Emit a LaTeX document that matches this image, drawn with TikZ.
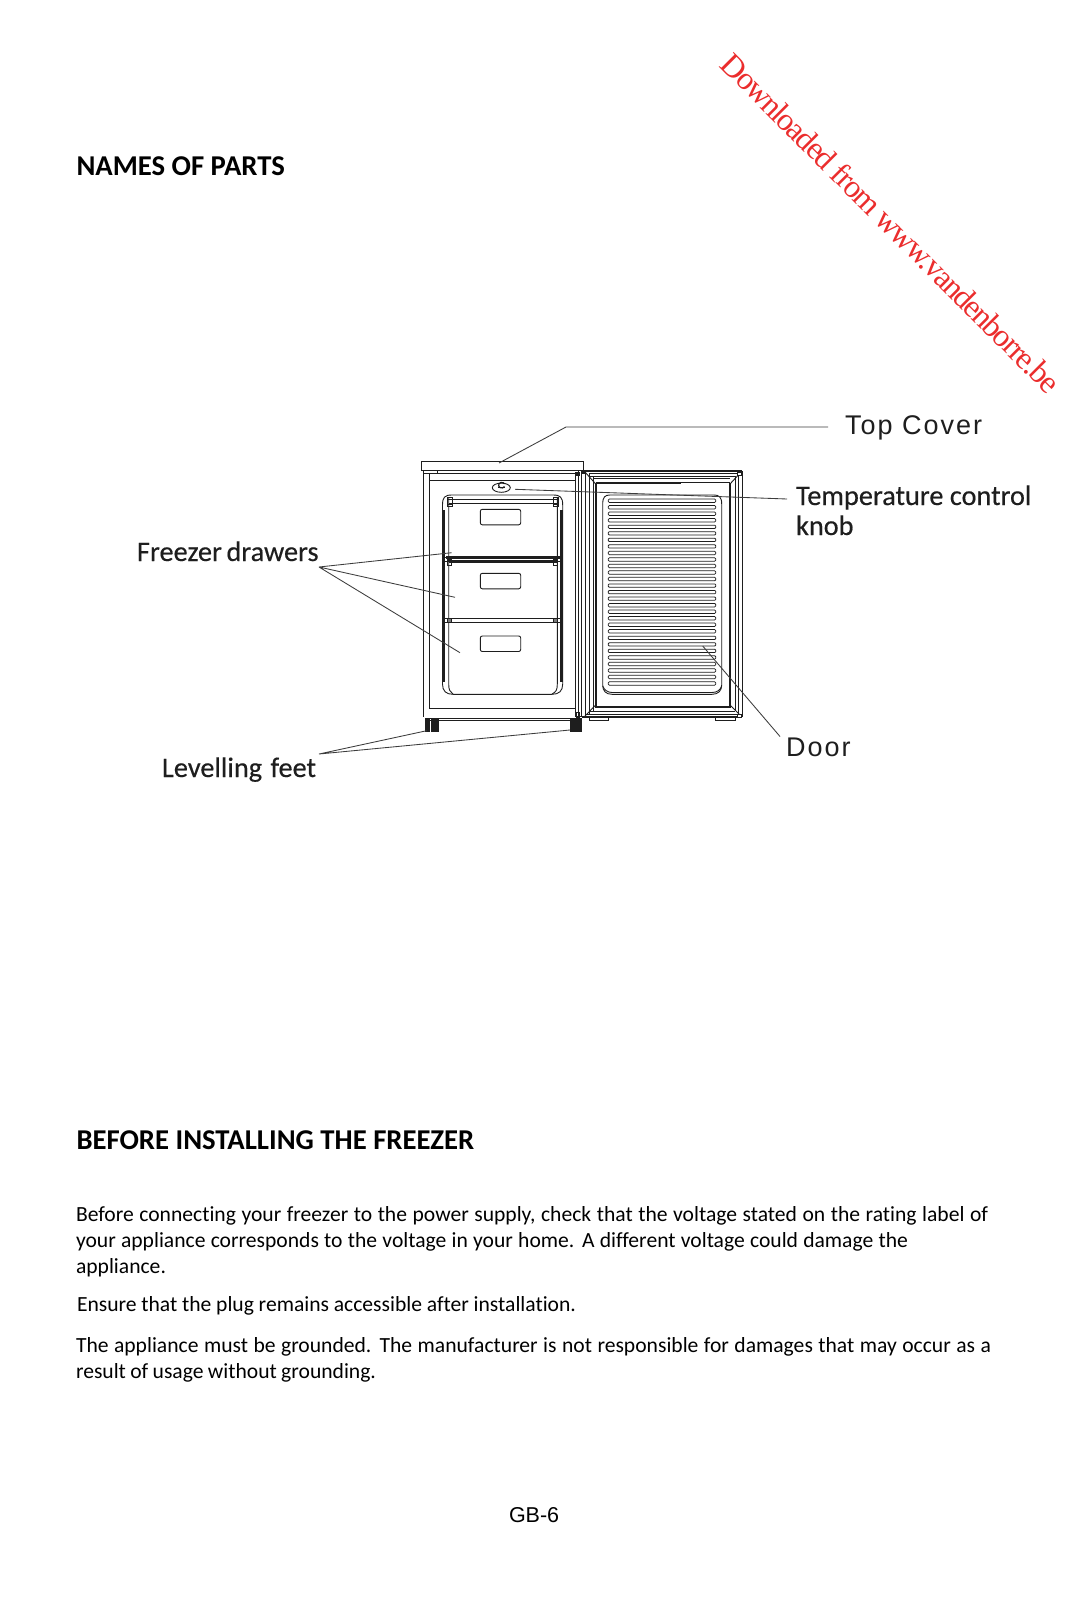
\documentclass[tikz,border=0pt]{standalone}
\usepackage{fontspec}
\setmainfont[Ligatures=CommonOff]{Carlito}
\newfontfamily\labf[Ligatures=CommonOff,FakeBold=0.35]{Carlito}
\newfontfamily\arialf{Liberation Sans}
\newfontfamily\arialsp[LetterSpace=7.5]{Liberation Sans}
\newfontfamily\timesf[LetterSpace=-5.1]{Liberation Serif}
\definecolor{wm}{RGB}{235,45,45}
\definecolor{ink}{RGB}{30,30,30}
\definecolor{lead}{RGB}{60,60,60}
\tikzset{
  pline/.style={draw=ink,line width=0.9pt},
  thick line/.style={draw=ink,line width=2.2pt},
  leader/.style={draw=lead,line width=0.85pt},
  txt/.style={anchor=base west,inner sep=0pt,outer sep=0pt,text=black},
  body/.style={txt,font=\fontsize{21.6}{24}\selectfont},
  head/.style={txt,font=\fontsize{28.7}{30}\selectfont\bfseries},
  lab/.style={txt,font=\fontsize{28.3}{32}\selectfont\labf,text=ink},
  sanslab/.style={txt,font=\fontsize{27}{32}\selectfont\arialsp,text=ink},
  rib/.style={draw=ink,line width=0.75pt,rounded corners=1pt},
  foot/.style={fill=ink,draw=ink,line width=0.4pt}
}
\begin{document}
\begin{tikzpicture}[x=1pt,y=-1pt]
\useasboundingbox (0,0) rectangle (1068,1600);
\fill[white] (0,0) rectangle (1068,1600);

% texts
\node[head] (h1) at (76.5,175.5) {NAMES OF PARTS};
\node[head] (h2) at (76.5,1149) {BEFORE INSTALLING THE FREEZER};
\node[body] (b1) at (76,1221) {\makebox[912pt][s]{Before connecting your freezer to the power supply, check that the voltage stated on the rating label of}};
\node[body] (b2) at (76,1247) {\makebox[832pt][s]{your appliance corresponds to the voltage in your home. A different voltage could damage the}};
\node[body] (b3) at (76,1273) {appliance.};
\node[body] (b4) at (77,1311) {\makebox[499pt][s]{Ensure that the plug remains accessible after installation.}};
\node[body] (b5) at (76,1352) {\makebox[915pt][s]{The appliance must be grounded. The manufacturer is not responsible for damages that may occur as a}};
\node[body] (b6) at (76,1378) {\makebox[300pt][s]{result of usage without grounding.}};
\node[txt,font=\fontsize{21.5}{24}\selectfont\arialf] (pg) at (509,1522) {GB-6};
\node[anchor=center,rotate=-45,inner sep=0pt,text=wm,font=\fontsize{32}{40}\selectfont\timesf] (wmk) at (891,223) {Downloaded from www.vandenborre.be};

\node[sanslab] (ltop) at (845,434) {Top Cover};
\node[sanslab] (ldoor) at (786,756) {Door};
\node[lab] (ltemp) at (796,505) {Temperature control};
\node[lab] (lknob) at (796,535) {knob};
\node[lab] (lfreez) at (137,561) {\makebox[181.5pt][s]{Freezer drawers}};
\node[lab] (lfeet) at (162,777) {\makebox[154pt][s]{Levelling feet}};

% cabinet
\draw[pline,line width=1.2pt] (421.7,461.7) rectangle (583.3,470.7);
\draw[pline] (423.3,470.7) -- (423.3,717);
\draw[pline] (429.3,473.3) -- (429.3,708) -- (575.7,708) -- (575.7,473.3);
\draw[pline] (423.3,473.3) -- (575.7,473.3);
\draw[pline] (430,480.7) -- (575.7,480.7);
\draw[pline] (437,470.7) -- (437,473.3);
\draw[pline] (581,470.7) -- (581,716);
\draw[pline] (578,471) -- (578,716);
\draw[pline] (430,718) -- (570,718) (430,720) -- (570,720);
\draw[pline] (575.7,708) -- (575.7,716) -- (581,716);
\fill[ink] (575,471.5) rectangle (580,476);

% knob
\draw[pline] (501.3,487.7) ellipse (9 and 4.6);
\draw[pline,line width=1.2pt] (504.5,486.6) arc (30:330:3.2 and 2.8);
\draw[pline] (498,487.7) -- (505,487.7);

% drawer frame
\draw[thick line] (443.7,510) -- (443.7,682) (561.5,510) -- (561.5,682);
\draw[pline] (442.5,505) .. controls (442.5,497) and (445,495) .. (452,495) -- (553,495) .. controls (560,495) and (562.7,497) .. (562.7,505);
\draw[pline] (442.5,505) -- (442.5,684) .. controls (442.5,691) and (446,694.3) .. (453,694.3) -- (552,694.3) .. controls (559,694.3) and (562.7,691) .. (562.7,684) -- (562.7,505);
\draw[pline] (448.7,497) -- (448.7,684) .. controls (448.7,690) and (450,692) .. (453,694);
\draw[pline] (557.3,497) -- (557.3,684) .. controls (557.3,690) and (556,692) .. (552,694);
\draw[pline] (448.7,499.3) -- (557.3,499.3) (448.7,503.3) -- (557.3,503.3);
\foreach \yy in {497,499.3}{\draw[pline] (447,\yy) rectangle (452,\yy+7);\draw[pline] (553.5,\yy) rectangle (558.5,\yy+7);}
% shelves
\draw[thick line] (446,557.5) -- (560,557.5);
\draw[pline] (444,557) rectangle (561,561);
\draw[thick line] (449,561.5) -- (557,561.5);
\draw[pline] (444,618) rectangle (561,622.5);
\foreach \xx in {447.5,553.5}{
  \draw[pline,fill=ink] (\xx,557) rectangle (\xx+4,561);
  \draw[pline] (\xx,561) rectangle (\xx+4,565);
  \draw[pline,fill=ink!60] (\xx,618) rectangle (\xx+4,622);
}
\draw[pline] (448.7,622.5) -- (557.3,622.5);
% handles
\foreach \yy in {509.3,573.3,636}{
  \draw[pline,rounded corners=2pt] (480.3,\yy) rectangle (520.7,\yy+15.5);
}
% feet
\draw[foot] (425.5,718) rectangle (429.5,730.7);
\draw[foot] (431,718) rectangle (437.7,730.7);
\draw[foot] (570,718) rectangle (580.7,730.7);
\draw[pline] (576,712) rectangle (579,717);

% door
\draw[pline,line width=1.4pt] (581.7,471) -- (742.3,471) (581.7,717) -- (742.3,717);
\draw[pline] (581.7,471) -- (581.7,717) (585,471) -- (585,716) (589,473) -- (589,714) (593.3,476) -- (593.3,711);
\draw[pline] (589,473.5) -- (740,473.5) (589,476) -- (735,476) (593.3,478.5) -- (730,478.5);
\draw[thick line] (595.7,482.7) -- (681,482.7);
\draw[pline] (595.7,482.7) -- (730,482.7);
\draw[thick line] (595.7,483) -- (595.7,706.7) -- (730,706.7) -- (730,483);
\draw[pline] (735,476) -- (735,711) (738,473) -- (738,714) (742.3,471) -- (742.3,717);
\draw[pline] (589,711) -- (735,711) (585,714) -- (740,714);
\draw[pline] (585,472) -- (595.7,484) (741,472) -- (730,484) (585,716) -- (595.7,705) (741,716) -- (730,705);
\fill[ink] (582,471) rectangle (585,474);
\draw[pline,fill=white] (737,472) rectangle (741.5,475);
\draw[pline,fill=white] (737,714.5) rectangle (741.5,717.5);
\draw[pline] (589.5,717.5) rectangle (608.5,720.5) (715.5,717.5) rectangle (735,720.5);
% door panel
\draw[pline] (602.7,504) .. controls (602.7,497) and (605,495) .. (610,495) -- (714,495) .. controls (719,495) and (721.7,497) .. (721.7,504) -- (721.7,685) .. controls (721.7,691) and (718,694.3) .. (712,694.3) -- (612,694.3) .. controls (606,694.3) and (602.7,691) .. (602.7,685) -- cycle;
\draw[pline] (602.7,686) .. controls (604,690) and (608,692.5) .. (612,692.5) -- (712,692.5) .. controls (717,692.5) and (720.5,690) .. (721.7,686);
\foreach \i in {0,...,28}{
  \draw[rib] (608.3,499+\i*6.53) -- (715.7,499+\i*6.53) -- (715.7,502.4+\i*6.53) -- (608.3,502.4+\i*6.53) -- cycle;
}

% leaders
\coordinate (c1) at (828,427); \coordinate (c2) at (566,427); \coordinate (c3) at (499,463);
\coordinate (k1) at (515,489.3); \coordinate (k2) at (787,499);
\coordinate (f0) at (319,567); \coordinate (f1) at (451.7,552.7); \coordinate (f2) at (455,597.3); \coordinate (f3) at (460,652.7);
\coordinate (g0) at (319,754); \coordinate (g1) at (426.7,730.7); \coordinate (g2) at (570,730);
\coordinate (d1) at (702.7,646); \coordinate (d2) at (780,736.5);
\draw[leader] (c1) -- (c2) -- (c3);
\draw[leader] (k1) -- (k2);
\draw[leader] (f0) -- (f1) (f0) -- (f2) (f0) -- (f3);
\draw[leader] (g1) -- (g0) -- (g2);
\draw[leader] (d1) -- (d2);
\end{tikzpicture}
\end{document}
